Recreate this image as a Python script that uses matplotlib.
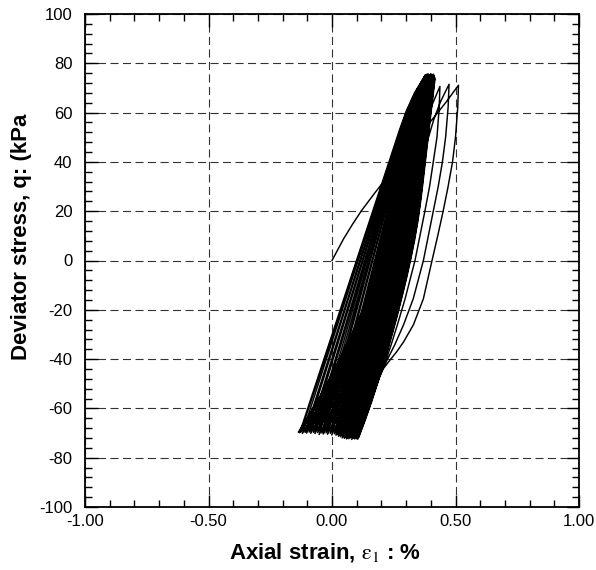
import numpy as np
import matplotlib
matplotlib.use("Agg")
import matplotlib.pyplot as plt
from matplotlib.ticker import MultipleLocator, FormatStrFormatter

# first loading from the origin up to the first compression peak
INIT_STRAIN = [0.0, 0.047, 0.085, 0.120, 0.174, 0.221, 0.262, 0.330, 0.400, 0.460, 0.512]
INIT_Q = [0.0, 8.8, 15.0, 20.3, 27.5, 33.5, 39.5, 48.0, 56.5, 64.0, 71.1]

# the three first unloading branches, which stand apart from the dense band
UNLOAD1_STRAIN = [0.512, 0.509, 0.500, 0.488, 0.470, 0.450, 0.428, 0.405, 0.370, 0.330,
                  0.290, 0.262, 0.230, 0.207, 0.170, 0.130, 0.090, 0.060]
UNLOAD1_Q = [71.1, 62.0, 50.0, 40.0, 30.0, 20.0, 10.0, 0.0, -15.5, -26.0,
             -33.0, -37.0, -41.0, -44.0, -52.0, -60.0, -67.0, -72.0]
UNLOAD2_STRAIN = [0.474, 0.470, 0.460, 0.447, 0.430, 0.410, 0.390, 0.370, 0.329, 0.290,
                  0.255, 0.225, 0.205, 0.170, 0.135, 0.105, 0.080]
UNLOAD2_Q = [71.5, 62.0, 50.0, 40.0, 30.0, 20.0, 10.0, 0.0, -15.5, -26.0,
             -34.0, -40.0, -44.0, -52.0, -60.0, -67.0, -71.5]
UNLOAD3_STRAIN = [0.437, 0.434, 0.425, 0.410, 0.395, 0.376, 0.356, 0.336, 0.296, 0.265,
                  0.240, 0.220, 0.205, 0.175, 0.145, 0.120, 0.100]
UNLOAD3_Q = [70.6, 62.0, 50.0, 40.0, 30.0, 20.0, 10.0, 0.0, -15.5, -26.0,
             -34.0, -40.0, -44.0, -52.0, -60.0, -67.0, -72.3]

# cycle reversal points (compression peaks / extension troughs)
PEAK_STRAIN = [0.512, 0.474, 0.437,
               0.417, 0.416, 0.415, 0.414, 0.412, 0.411, 0.410, 0.409, 0.408, 0.406,
               0.405, 0.404, 0.402, 0.401, 0.400, 0.399, 0.398, 0.397, 0.396, 0.395,
               0.394, 0.393, 0.392, 0.391, 0.390, 0.389, 0.389, 0.388, 0.387, 0.386,
               0.386, 0.385, 0.385, 0.384, 0.384, 0.383, 0.383, 0.382, 0.382, 0.381,
               0.381, 0.380, 0.380, 0.379, 0.379, 0.378, 0.378, 0.377]
PEAK_Q = [71.1, 71.5, 70.6,
          73.6, 74.2, 73.8, 75.0, 74.5, 75.6, 74.0, 75.2, 74.8, 73.9,
          75.5, 74.6, 75.1, 74.3, 75.8, 74.9, 74.4, 75.3, 73.8, 75.0,
          74.7, 75.4, 74.1, 75.6, 74.8, 74.2, 75.1, 74.5, 75.7, 74.0,
          75.2, 74.6, 73.9, 75.0, 74.4, 75.3, 74.7, 74.1, 75.5, 74.8,
          74.3, 75.0, 74.6, 75.4, 74.2, 75.1, 74.7, 75.2]
TROUGH_STRAIN = [0.060, 0.080, 0.100,
                 0.108, 0.104, 0.101, 0.098, 0.095, 0.092, 0.089, 0.086, 0.083, 0.080,
                 0.077, 0.074, 0.071, 0.068, 0.065, 0.062, 0.059, 0.056, 0.053, 0.050,
                 0.047, 0.044, 0.041, 0.038, 0.034, 0.030, 0.026, 0.022,
                 0.016, 0.010, -0.001, -0.007, -0.018, -0.024, -0.035, -0.041,
                 -0.052, -0.058, -0.069, -0.075, -0.086, -0.092, -0.103, -0.109,
                 -0.120, -0.126, -0.131, -0.136]
TROUGH_Q = [-72.0, -71.5, -72.3,
            -71.8, -72.5, -71.2, -72.0, -71.6, -72.4, -71.0, -72.2, -71.7, -72.6,
            -71.3, -72.0, -71.5, -72.3, -71.1, -71.8, -72.4, -71.4, -71.9, -72.1,
            -71.2, -71.7, -72.0, -71.0, -71.5, -70.8, -71.3, -70.6,
            -70.9, -70.3, -70.8, -70.1, -70.5, -69.9, -70.4, -70.0,
            -70.6, -69.8, -70.2, -69.7, -70.1, -69.6, -70.0, -69.7,
            -70.2, -69.6, -69.9, -69.6]

# normalised branch shapes of the dense cycles
# (fraction of the stress change -> fraction of the strain change)
BRANCH_U = [0.0, 0.05, 0.10, 0.15, 0.20, 0.25, 0.30, 0.35, 0.40, 0.45, 0.50,
            0.55, 0.60, 0.65, 0.70, 0.75, 0.80, 0.85, 0.90, 0.95, 1.0]
UNLOAD_S = [0.0, 0.028, 0.056, 0.083, 0.110, 0.137, 0.164, 0.193, 0.227, 0.268, 0.315,
            0.367, 0.423, 0.482, 0.545, 0.612, 0.682, 0.754, 0.830, 0.912, 1.0]
LOAD_S = [0.0, 0.047, 0.094, 0.141, 0.188, 0.235, 0.282, 0.329, 0.376, 0.423, 0.470,
          0.517, 0.564, 0.611, 0.658, 0.705, 0.752, 0.799, 0.850, 0.915, 1.0]

X_TICKS = [-1.0, -0.5, 0.0, 0.5, 1.0]
Y_TICKS = [-100, -80, -60, -40, -20, 0, 20, 40, 60, 80, 100]


def branch(e0, q0, e1, q1, shape):
    u = np.asarray(BRANCH_U)
    s = np.asarray(shape)
    return e0 + (e1 - e0) * s, q0 + (q1 - q0) * u


def build_path():
    outer = [(UNLOAD1_STRAIN, UNLOAD1_Q), (UNLOAD2_STRAIN, UNLOAD2_Q),
             (UNLOAD3_STRAIN, UNLOAD3_Q)]
    es, qs = [np.asarray(INIT_STRAIN)], [np.asarray(INIT_Q)]
    for k in range(len(TROUGH_STRAIN)):
        if k < len(outer):
            e, q = np.asarray(outer[k][0]), np.asarray(outer[k][1])
        else:
            e, q = branch(PEAK_STRAIN[k], PEAK_Q[k], TROUGH_STRAIN[k], TROUGH_Q[k], UNLOAD_S)
        es.append(e[1:]); qs.append(q[1:])
        if k + 1 < len(PEAK_STRAIN):
            e, q = branch(TROUGH_STRAIN[k], TROUGH_Q[k], PEAK_STRAIN[k + 1], PEAK_Q[k + 1], LOAD_S)
            es.append(e[1:]); qs.append(q[1:])
    return np.concatenate(es), np.concatenate(qs)


def main():
    plt.rcParams["font.family"] = ["Liberation Sans", "DejaVu Sans"]
    plt.rcParams["axes.unicode_minus"] = False
    plt.rcParams["mathtext.fontset"] = "stix"
    plt.rcParams["lines.scale_dashes"] = False

    fig = plt.figure(figsize=(5.96, 5.70), dpi=100)
    ax = fig.add_axes([85 / 596, 1 - 507 / 570, 494 / 596, 493 / 570])

    ax.grid(True, which="major", color="#333333", lw=0.8, ls=(0, (5.8, 3.2)))
    ax.set_axisbelow(True)

    e, q = build_path()
    ax.plot(e, q, color="black", lw=1.05, solid_joinstyle="round")

    ax.set_xlim(-1, 1)
    ax.set_ylim(-100, 100)
    ax.set_xticks(X_TICKS)
    ax.set_yticks(Y_TICKS)
    ax.xaxis.set_major_formatter(FormatStrFormatter("%.2f"))
    ax.xaxis.set_minor_locator(MultipleLocator(0.1))
    ax.yaxis.set_minor_locator(MultipleLocator(4))
    ax.tick_params(which="both", direction="in", top=True, right=True,
                   labelsize=12, width=1.0)
    ax.tick_params(axis="x", which="major", pad=5)
    ax.tick_params(axis="y", which="major", pad=9)
    ax.tick_params(which="major", length=9)
    ax.tick_params(which="minor", length=5)
    for sp in ax.spines.values():
        sp.set_linewidth(1.3)

    ax.set_xlabel(r"Axial strain, $\mathrm{\varepsilon_1}$ : %", fontsize=16,
                  fontweight="bold")
    ax.xaxis.set_label_coords(0.486, -0.068)
    ax.set_ylabel("Deviator stress, q: (kPa", fontsize=16, fontweight="bold")
    ax.yaxis.set_label_coords(-0.107, 0.548)

    fig.savefig("out.png", dpi=100)
    plt.close(fig)


if __name__ == "__main__":
    main()
